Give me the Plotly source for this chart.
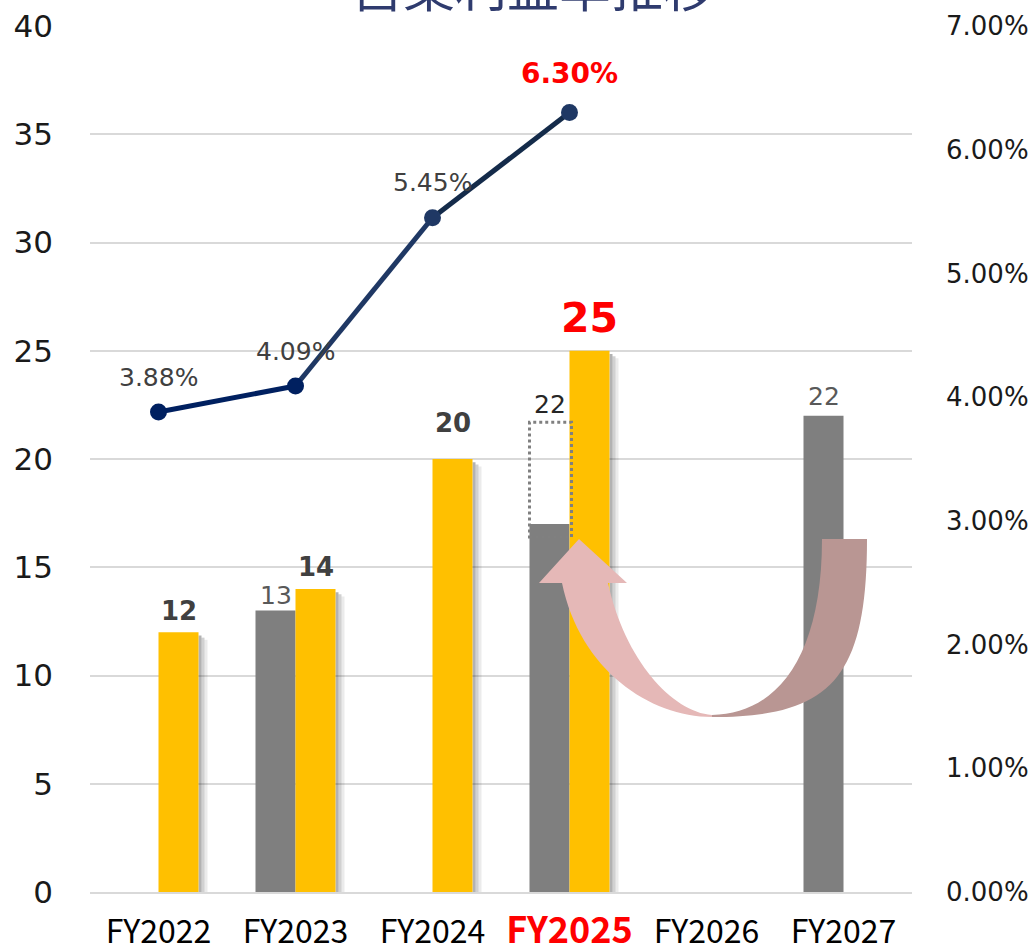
import plotly.graph_objects as go

# ---------------- data ----------------
categories = ["FY2022", "FY2023", "FY2024", "FY2025", "FY2026", "FY2027"]
gray_values = [None, 13, None, 17, None, 22]
yellow_values = [12, 14, 20, 25, None, None]
margin_values = [0.0388, 0.0409, 0.0545, 0.0630]
margin_labels = ["3.88%", "4.09%", "5.45%", "6.30%"]
gray_labels = ["", "13", "", "22", "", "22"]
yellow_labels = ["12", "14", "20", "25", "", ""]
plan_fy2025_low = 16.4
plan_fy2025_high = 21.7
title_text = "営業利益率推移"
left_ticks = [0, 5, 10, 15, 20, 25, 30, 35, 40]

# ---------------- geometry / style ----------------
W, H = 1033, 948
L, R, T, B = 90, 121, 26, 56
plot_w = W - L - R
plot_h = H - T - B
n = len(categories)
cat_px = plot_w / n
bar_frac = 40 / cat_px
bar_px = bar_frac * cat_px

GRAY = "#7F7F7F"
YELLOW = "#FFC000"
seg_colors = ["#002060", "#1F3864", "#142B4A"]
marker_colors = ["#002060", "#002060", "#1F3864", "#1F3864"]

fig = go.Figure()
fig.add_trace(go.Bar(x=categories, y=gray_values, marker=dict(color=GRAY, line_width=0),
                     name="gray", hoverinfo="skip"))
fig.add_trace(go.Bar(x=categories, y=yellow_values, marker=dict(color=YELLOW, line_width=0),
                     name="yellow", hoverinfo="skip"))

mx = categories[:len(margin_values)]
for i in range(len(margin_values) - 1):
    fig.add_trace(go.Scatter(x=mx[i:i + 2], y=margin_values[i:i + 2], mode="lines",
                             line=dict(color=seg_colors[i], width=5), yaxis="y2",
                             hoverinfo="skip", showlegend=False))
fig.add_trace(go.Scatter(x=mx, y=margin_values, mode="markers",
                         marker=dict(color=marker_colors, size=17), yaxis="y2",
                         hoverinfo="skip", showlegend=False))

annotations = []
gray_style = {1: dict(color="#595959", size=25, bold=False, dy=15),
              3: dict(color="#262626", size=25, bold=False, dy=11),
              5: dict(color="#595959", size=25, bold=False, dy=19)}
yellow_style = {0: dict(color="#404040", size=26, bold=True, dy=21),
                1: dict(color="#404040", size=26, bold=True, dy=22),
                2: dict(color="#404040", size=26, bold=True, dy=36),
                3: dict(color="#FF0000", size=41, bold=True, dy=33)}
for i, lab in enumerate(gray_labels):
    if not lab:
        continue
    st = gray_style[i]
    yv = gray_values[i] if i != 3 else float(lab)
    annotations.append(dict(x=categories[i], y=yv, xref="x", yref="y",
                            text=("<b>%s</b>" % lab) if st["bold"] else lab,
                            showarrow=False, xshift=-bar_px / 2, yshift=st["dy"], yanchor="middle",
                            font=dict(family="DejaVu Sans", size=st["size"], color=st["color"])))
for i, lab in enumerate(yellow_labels):
    if not lab:
        continue
    st = yellow_style[i]
    annotations.append(dict(x=categories[i], y=yellow_values[i], xref="x", yref="y",
                            text=("<b>%s</b>" % lab) if st["bold"] else lab,
                            showarrow=False, xshift=bar_px / 2, yshift=st["dy"], yanchor="middle",
                            font=dict(family="DejaVu Sans", size=st["size"], color=st["color"])))
line_style = [dict(color="#404040", size=25, bold=False, dy=34),
              dict(color="#404040", size=25, bold=False, dy=35),
              dict(color="#404040", size=25, bold=False, dy=35),
              dict(color="#FF0000", size=28, bold=True, dy=39)]
for i, lab in enumerate(margin_labels):
    st = line_style[i]
    annotations.append(dict(x=categories[i], y=margin_values[i], xref="x", yref="y2",
                            text=("<b>%s</b>" % lab) if st["bold"] else lab,
                            showarrow=False, yshift=st["dy"], yanchor="middle",
                            font=dict(family="DejaVu Sans", size=st["size"], color=st["color"])))

# title (cut off at top as in the reference)
annotations.append(dict(x=(533 - L) / plot_w, y=(H - B - 24) / plot_h, xref="paper", yref="paper",
                        text=title_text, showarrow=False, xanchor="center", yanchor="bottom",
                        font=dict(family="Noto Sans CJK JP", size=52, color="#2F3B6E")))

shapes = []
for i, v in enumerate(yellow_values):
    if v is None:
        continue
    x_edge = i + bar_frac
    for k, op in enumerate([0.30, 0.18, 0.08]):
        shapes.append(dict(type="rect", xref="x", yref="y", layer="between",
                           x0=x_edge + k * 3 / cat_px, x1=x_edge + (k + 1) * 3 / cat_px,
                           y0=0, y1=v - 0.15 - k * 0.1, line_width=0,
                           fillcolor="rgba(0,0,0,%.2f)" % op))

shapes.append(dict(type="rect", xref="x", yref="y", layer="above",
                   x0=3 - bar_frac, x1=3 + 2 / cat_px, y0=plan_fy2025_low, y1=plan_fy2025_high,
                   line=dict(color="#808080", width=3, dash="dot"), fillcolor="rgba(0,0,0,0)"))


def P(px, py):
    return "%.5f,%.5f" % ((px - L) / plot_w, (H - B - py) / plot_h)


left_piece = ("M " + P(712, 715) +
              " C " + P(672, 712) + " " + P(625, 660) + " " + P(608, 583) +
              " L " + P(627, 583) + " L " + P(579, 539) + " L " + P(539, 583) + " L " + P(562, 583) +
              " C " + P(580, 670) + " " + P(650, 717) + " " + P(712, 717) + " Z")
right_piece = ("M " + P(712, 715) +
               " C " + P(775, 714) + " " + P(822, 660) + " " + P(822, 539) +
               " L " + P(867, 539) +
               " C " + P(867, 680) + " " + P(830, 717) + " " + P(712, 717) + " Z")
shapes.append(dict(type="path", xref="paper", yref="paper", layer="above", path=left_piece,
                   fillcolor="#E5B8B7", line_width=0))
shapes.append(dict(type="path", xref="paper", yref="paper", layer="above", path=right_piece,
                   fillcolor="#B99693", line_width=0))

ticktext = [("<span style='color:#FF0000;font-size:36px'><b>%s</b></span>" % c) if c == "FY2025" else c
            for c in categories]

fig.update_layout(
    width=W, height=H,
    margin=dict(l=L, r=R, t=T, b=B, pad=0, autoexpand=False),
    paper_bgcolor="white", plot_bgcolor="white",
    barmode="group", bargap=1 - 2 * bar_frac, bargroupgap=0,
    showlegend=False,
    xaxis=dict(type="category", categoryorder="array", categoryarray=categories,
               tickmode="array", tickvals=categories, ticktext=ticktext, automargin=False,
               tickfont=dict(family="Noto Sans CJK JP", size=32, color="#000000"),
               showline=True, linecolor="#D9D9D9", linewidth=2, ticks="", showgrid=False,
               ticklabelstandoff=11, range=[-0.5, n - 0.5]),
    yaxis=dict(range=[0, 40], tickvals=left_ticks, showgrid=True, gridcolor="#D9D9D9", gridwidth=2,
               zeroline=False, ticks="", automargin=False,
               tickfont=dict(family="DejaVu Sans", size=31, color="#1A1A1A"),
               ticklabelstandoff=36),
    yaxis2=dict(range=[0, 0.07], dtick=0.01, tickformat=".2%", overlaying="y", side="right",
                showgrid=False, zeroline=False, ticks="", automargin=False,
                tickfont=dict(family="DejaVu Sans", size=26, color="#1A1A1A"), ticklabelstandoff=33),
    annotations=annotations,
    shapes=shapes,
)

fig.write_html("out.html", config={"displayModeBar": False},
               post_script="document.body.style.margin='0';")
